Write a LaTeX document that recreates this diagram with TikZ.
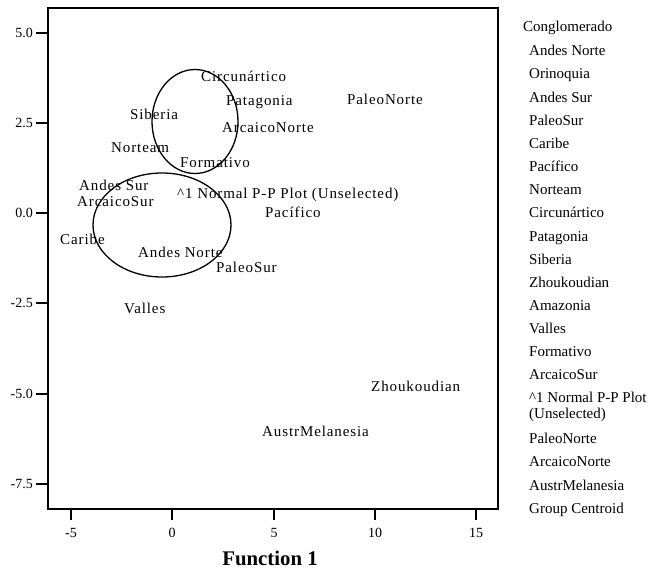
\documentclass[tikz,border=0pt]{standalone}
\usepackage{fontspec}
\setmainfont{Liberation Serif}
\newfontfamily\plotfont[LetterSpace=6]{Liberation Serif}
\usetikzlibrary{positioning}

\begin{document}
\begin{tikzpicture}[
    x=1pt, y=-1pt,
    grp/.style={anchor=west, inner sep=0pt, text height=13pt, text depth=2pt,
        font=\plotfont\fontsize{15}{16}\selectfont},
    leg/.style={anchor=west, inner sep=0pt, text height=13pt, text depth=2pt,
        font=\fontsize{15}{16}\selectfont},
    ticklab/.style={inner sep=0pt, font=\fontsize{14}{15}\selectfont},
    tickline/.style={line width=1.3pt},
    region/.style={line width=1.3pt},
]
\useasboundingbox (0,0) rectangle (649,570);

% ===== Frame and axes =====
\draw[line width=1.4pt] (48,8) rectangle (498,509);

\foreach \v/\py [count=\i] in {5.0/33, 2.5/123, 0.0/213, -2.5/303, -5.0/394, -7.5/484} {
    \coordinate (yt\i) at (48,\py);
    \draw[tickline] (yt\i) -- ++(-12,0);
    \node[ticklab, anchor=east] (ylab\i) at (33,\py) {\v};
}
\foreach \v/\px [count=\i] in {-5/71, 0/172, 5/274, 10/375, 15/476} {
    \coordinate (xt\i) at (\px,509);
    \draw[tickline] (xt\i) -- ++(0,11);
    \node[ticklab] (xlab\i) at (\px,533) {\v};
}
\node[font=\fontsize{20.8}{21}\selectfont\bfseries] (xtitle) at (270,558) {Function 1};

% ===== Group regions =====
\draw[region] (195,121.5) ellipse [x radius=43, y radius=52];
\draw[region] (162,225) ellipse [x radius=69, y radius=52];

% ===== Group labels =====
\node[grp] (circ) at (201,76) {Circunártico};
\node[grp] (pata) at (226,100) {Patagonia};
\node[grp] (pnor) at (347,99) {PaleoNorte};
\node[grp] (sibe) at (130,114) {Siberia};
\node[grp] (anor) at (222,127) {ArcaicoNorte};
\node[grp] (ntam) at (111,147) {Norteam};
\node[grp] (form) at (180,162) {Formativo};
\node[grp] (asur) at (79,185) {Andes Sur};
\node[grp] (unsel) at (177,193) {\^{}1 Normal P-P Plot (Unselected)};
\node[grp] (arsu) at (77,201) {ArcaicoSur};
\node[grp] (paci) at (265,212) {Pacífico};
\node[grp] (cari) at (60,239) {Caribe};
\node[grp] (anno) at (138,252) {Andes Norte};
\node[grp] (psur) at (216,267) {PaleoSur};
\node[grp] (vall) at (124,308) {Valles};
\node[grp] (zhou) at (371,386) {Zhoukoudian};
\node[grp] (aust) at (262,431) {AustrMelanesia};

% ===== Legend =====
\node[leg] (lg0) at (523,26) {Conglomerado};
\foreach \t/\py [count=\i] in {Andes Norte/50, Orinoquia/73, Andes Sur/97, PaleoSur/120,
    Caribe/143, Pacífico/166, Norteam/189, Circunártico/212, Patagonia/236, Siberia/259,
    Zhoukoudian/282, Amazonia/305, Valles/328, Formativo/351, ArcaicoSur/374,
    \^{}1 Normal P-P Plot/397, (Unselected)/413, PaleoNorte/438, ArcaicoNorte/461,
    AustrMelanesia/485, Group Centroid/508} {
    \node[leg] (lg\i) at (529,\py) {\t};
}

\end{tikzpicture}
\end{document}
